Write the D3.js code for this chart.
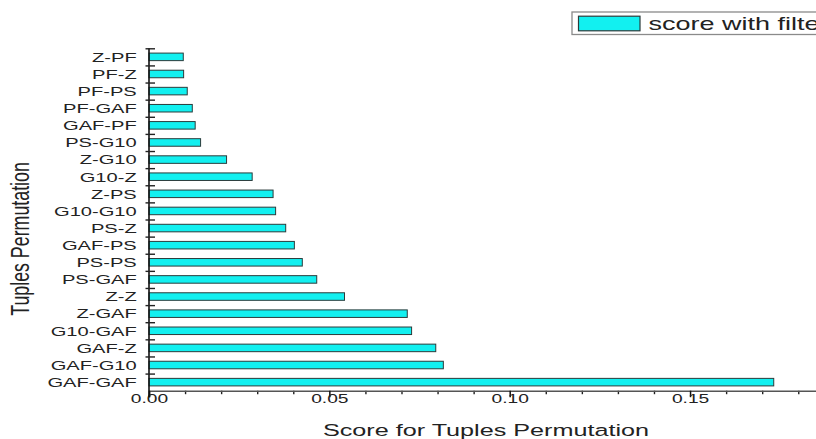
<!DOCTYPE html>
<html>
<head>
<meta charset="utf-8">
<script src="https://cdn.jsdelivr.net/npm/d3@7"></script>
<style>
  html, body { margin: 0; padding: 0; background: #fff; overflow: hidden; }
  svg { display: block; }
  text { font-family: "Liberation Sans", Arial, sans-serif; fill: #222; }
</style>
</head>
<body>
<svg id="chart" width="816" height="439"></svg>
<script>
const categories = ["Z-PF","PF-Z","PF-PS","PF-GAF","GAF-PF","PS-G10","Z-G10","G10-Z","Z-PS","G10-G10","PS-Z","GAF-PS","PS-PS","PS-GAF","Z-Z","Z-GAF","G10-GAF","GAF-Z","GAF-G10","GAF-GAF"];
const values = [0.0095,0.0096,0.0106,0.0120,0.0128,0.0143,0.0215,0.0286,0.0344,0.0351,0.0379,0.0403,0.0425,0.0465,0.0542,0.0716,0.0728,0.0795,0.0816,0.1732];
const majorTicks = [0, 0.05, 0.10, 0.15];
const minorTicks = [0.01,0.02,0.03,0.04,0.06,0.07,0.08,0.09,0.11,0.12,0.13,0.14,0.16,0.17,0.18];
const seriesName = "score with filter";
const xTitle = "Score for Tuples Permutation";
const yTitle = "Tuples Permutation";

(function () {
const SX = 1.5; // horizontal stretch of the original image
const svg = d3.select("#chart");
const pLeft = 149, pRight = 816.3, pTop = 48.3, pBottom = 390.7;

const x = d3.scaleLinear().domain([0, 0.185]).range([pLeft, pRight]);
const y = d3.scaleBand().domain(categories).range([pTop, pBottom]).paddingInner(0.56).paddingOuter(0.28);
const yIdx = d3.scaleLinear().domain([0, categories.length]).range([pTop, pBottom]);

// bars
svg.append("g").selectAll("rect").data(values).join("rect")
  .attr("x", x(0))
  .attr("y", (d, i) => y(categories[i]))
  .attr("width", d => x(d) - x(0))
  .attr("height", y.bandwidth())
  .attr("fill", "#12f0f0")
  .attr("stroke", "#2b3b3b")
  .attr("stroke-width", 1);

// x axis minor
const gxMinor = svg.append("g").attr("transform", `translate(0,${pBottom})`)
  .call(d3.axisBottom(x).tickValues(minorTicks).tickSizeOuter(0).tickSize(3.5).tickFormat(""));
gxMinor.select(".domain").remove();
gxMinor.selectAll("line").attr("stroke", "#222").attr("stroke-width", 1.4);

// x axis major
const gx = svg.append("g").attr("transform", `translate(0,${pBottom})`)
  .call(d3.axisBottom(x).tickValues(majorTicks).tickSizeOuter(0).tickSize(6.5).tickFormat(d3.format(".2f")));
gx.select(".domain").attr("stroke", "#555").attr("stroke-width", 1.6);
gx.selectAll(".tick line").attr("stroke", "#111").attr("stroke-width", 1.5);
gx.selectAll(".tick text")
  .attr("y", 0).attr("dy", 0)
  .attr("transform", `translate(0,12.3) scale(${SX},1)`)
  .style("font-size", "12.8px").style("font-family", "Liberation Sans, Arial, sans-serif")
  .attr("fill", "#2a2a2a");

// y axis boundary ticks
const gyT = svg.append("g").attr("transform", `translate(${pLeft},0)`)
  .call(d3.axisLeft(yIdx).tickValues(d3.range(0, categories.length)).tickSizeOuter(0).tickFormat(""));
gyT.select(".domain").attr("d", `M0,${pTop}V${pBottom + 6.5}`).attr("stroke", "#111").attr("stroke-width", 1.6);
gyT.selectAll(".tick line").attr("x1", -3.5).attr("x2", 6).attr("stroke", "#222").attr("stroke-width", 1.4);

// y axis labels
const gy = svg.append("g").attr("transform", `translate(${pLeft},0)`)
  .call(d3.axisLeft(y).tickSize(0).tickPadding(0));
gy.select(".domain").remove();
gy.selectAll(".tick text")
  .attr("x", 0).attr("dy", "0.36em")
  .attr("transform", `translate(-12.3,0) scale(${SX},1)`)
  .style("font-size", "13.4px").style("font-family", "Liberation Sans, Arial, sans-serif")
  .attr("fill", "#2a2a2a");

// axis titles
svg.append("text")
  .attr("text-anchor", "middle")
  .attr("transform", `translate(486,436) scale(${SX},1)`)
  .style("font-size", "16.8px")
  .text(xTitle);

svg.append("text")
  .attr("text-anchor", "middle")
  .attr("transform", `translate(28.5,239) scale(${SX},1) rotate(-90)`)
  .style("font-size", "17.8px")
  .text(yTitle);

// legend
const lg = svg.append("g");
lg.append("rect").attr("x", 572).attr("y", 12).attr("width", 260).attr("height", 22.5)
  .attr("fill", "#fff").attr("stroke", "#8a8a8a").attr("stroke-width", 1.3);
lg.append("rect").attr("x", 578.5).attr("y", 16.2).attr("width", 61.5).attr("height", 14.6)
  .attr("fill", "#12f0f0").attr("stroke", "#2b3b3b").attr("stroke-width", 1.2);
lg.append("text")
  .attr("transform", `translate(648.5,29.5) scale(1.42,1)`)
  .style("font-size", "19px")
  .text(seriesName);
})();
</script>
</body>
</html>
